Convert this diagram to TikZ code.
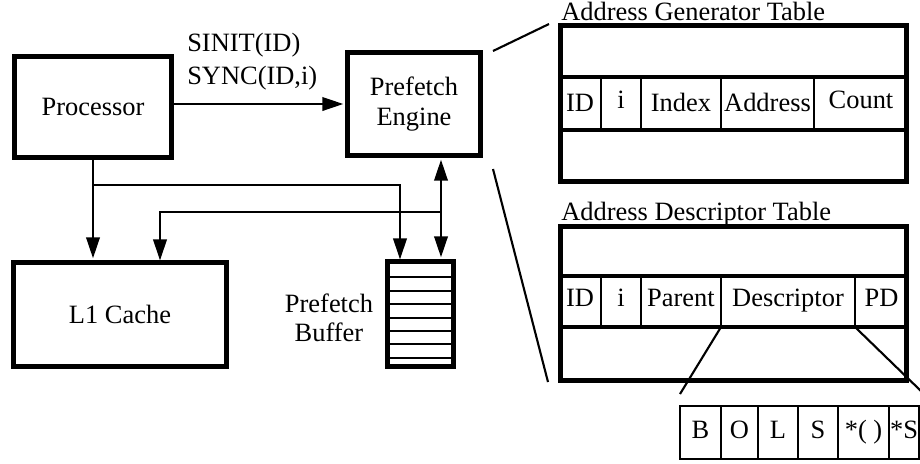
\documentclass[tikz,border=0pt]{standalone}
\usepackage{fontspec}
\setmainfont{Liberation Serif}
\usetikzlibrary{arrows.meta}
\tikzset{
blockbox/.style={rectangle, draw=black, line width=3pt, inner sep=0pt, align=center},
tablebox/.style={rectangle, draw=black, line width=3pt, inner sep=0pt},
busline/.style={line width=1.9pt, -{Triangle[length=15pt,width=9.5pt]}, shorten >=1.4pt},
dualbus/.style={line width=1.9pt, {Triangle[length=15pt,width=9.5pt]}-{Triangle[length=15pt,width=9.5pt]}, shorten >=1.4pt, shorten <=1.4pt},
slotline/.style={line width=1.9pt},
rowline/.style={line width=2.4pt},
cellline/.style={line width=1.9pt},
fieldbox/.style={rectangle, draw=black, line width=1.5pt, inner sep=0pt, minimum height=1.325cm},
zoomline/.style={line width=1.5pt},
}
\begin{document}
\begin{tikzpicture}[x=0.025cm, y=-0.025cm, font=\fontsize{18.8}{21}\selectfont]
\useasboundingbox (0,0) rectangle (920,463);

% processor side
\node[blockbox, minimum width=3.925cm, minimum height=2.525cm] at (93,107) (proc) {Processor};
\node[blockbox, minimum width=3.325cm, minimum height=2.575cm] at (414,104) (eng) {Prefetch\\Engine};
\node[blockbox, minimum width=5.325cm, minimum height=2.6cm] at (120,314.5) (lone) {L1 Cache};
\node[blockbox, minimum width=1.65cm, minimum height=2.625cm] at (420.5,314) (buf) {};
\node[align=center] at (329,318) (buflabel) {Prefetch\\Buffer};
\node[align=left, anchor=north west, inner sep=0pt, font=\fontsize{18.8}{23.7}\selectfont] at (187,33) (sig) {SINIT(ID)\\SYNC(ID,i)};

% buffer slots
\draw[slotline] (buf.west |- 0,277) -- (buf.east |- 0,277);
\draw[slotline] (buf.west |- 0,291) -- (buf.east |- 0,291);
\draw[slotline] (buf.west |- 0,304) -- (buf.east |- 0,304);
\draw[slotline] (buf.west |- 0,318) -- (buf.east |- 0,318);
\draw[slotline] (buf.west |- 0,331) -- (buf.east |- 0,331);
\draw[slotline] (buf.west |- 0,344) -- (buf.east |- 0,344);
\draw[slotline] (buf.west |- 0,358) -- (buf.east |- 0,358);

% buses
\coordinate (tapa) at (93,185);
\coordinate (tapb) at (441,212);
\coordinate (bufin) at (400,261.5);
\coordinate (lonein) at (160,262.5);
\draw[busline] (proc.east |- eng.west) -- (eng.west);
\draw[busline] (proc.south) -- (proc.south |- lone.north);
\draw[busline] (tapa) -| (bufin);
\draw[busline] (tapb) -| (lonein);
\draw[dualbus] (eng.south -| tapb) -- (buf.north -| tapb);

% address generator table
\node[tablebox, minimum width=8.65cm, minimum height=3.9cm] at (733.5,103.5) (agt) {};
\node[anchor=base west, inner sep=0pt] at (561,20) (agttitle) {Address Generator Table};
\draw[rowline] (agt.west |- 0,77) -- (agt.east |- 0,77);
\draw[rowline] (agt.west |- 0,130) -- (agt.east |- 0,130);
\draw[cellline] (601,77) -- (601,130);
\draw[cellline] (641,77) -- (641,130);
\draw[cellline] (721,77) -- (721,130);
\draw[cellline] (814,77) -- (814,130);
\node[anchor=base] at (580,111) (agtid) {ID};
\node[anchor=base] at (621,108) (agti) {i};
\node[anchor=base] at (681,111) (agtindex) {Index};
\node[anchor=base] at (767.5,111) (agtaddr) {Address};
\node[anchor=base] at (861,108) (agtcount) {Count};

% address descriptor table
\node[tablebox, minimum width=8.65cm, minimum height=3.85cm] at (733.5,303.5) (adt) {};
\node[anchor=base west, inner sep=0pt] at (561,220) (adttitle) {Address Descriptor Table};
\draw[rowline] (adt.west |- 0,276) -- (adt.east |- 0,276);
\draw[rowline] (adt.west |- 0,327) -- (adt.east |- 0,327);
\draw[cellline] (601,276) -- (601,327);
\draw[cellline] (641,276) -- (641,327);
\draw[cellline] (721,276) -- (721,327);
\draw[cellline] (855,276) -- (855,327);
\node[anchor=base] at (580,306) (adtid) {ID};
\node[anchor=base] at (621,306) (adti) {i};
\node[anchor=base] at (681,306) (adtparent) {Parent};
\node[anchor=base] at (788,306) (adtdesc) {Descriptor};
\node[anchor=base] at (881.5,306) (adtpd) {PD};

% descriptor fields
\node[fieldbox, minimum width=1.025cm] at (700.5,432.5) (fb) {};
\node[fieldbox, minimum width=0.925cm] at (739.5,432.5) (fo) {};
\node[fieldbox, minimum width=1cm] at (778,432.5) (fl) {};
\node[fieldbox, minimum width=1cm] at (818,432.5) (fs) {};
\node[fieldbox, minimum width=1.275cm] at (863.5,432.5) (fp) {};
\node[fieldbox, minimum width=0.75cm] at (904,432.5) (fq) {};
\node[anchor=base] at (fb |- 0,438) (fbtext) {B};
\node[anchor=base] at (fo |- 0,438) (fotext) {O};
\node[anchor=base] at (fl |- 0,438) (fltext) {L};
\node[anchor=base] at (fs |- 0,438) (fstext) {S};
\node[anchor=base] at (fp |- 0,438) (fptext) {*( )};
\node[anchor=base, inner sep=0pt] at (fq |- 0,438) (fqtext) {*S};

% zoom lines
\coordinate (zga) at (493,51);
\coordinate (zgb) at (549,24);
\coordinate (zda) at (493,169);
\coordinate (zdb) at (548,382);
\coordinate (zfa) at (680,394);
\coordinate (zfb) at (922,392);
\draw[zoomline] (zga) -- (zgb);
\draw[zoomline] (zda) -- (zdb);
\draw[zoomline] (721,327) -- (zfa);
\draw[zoomline] (855,327) -- (zfb);
\end{tikzpicture}
\end{document}
